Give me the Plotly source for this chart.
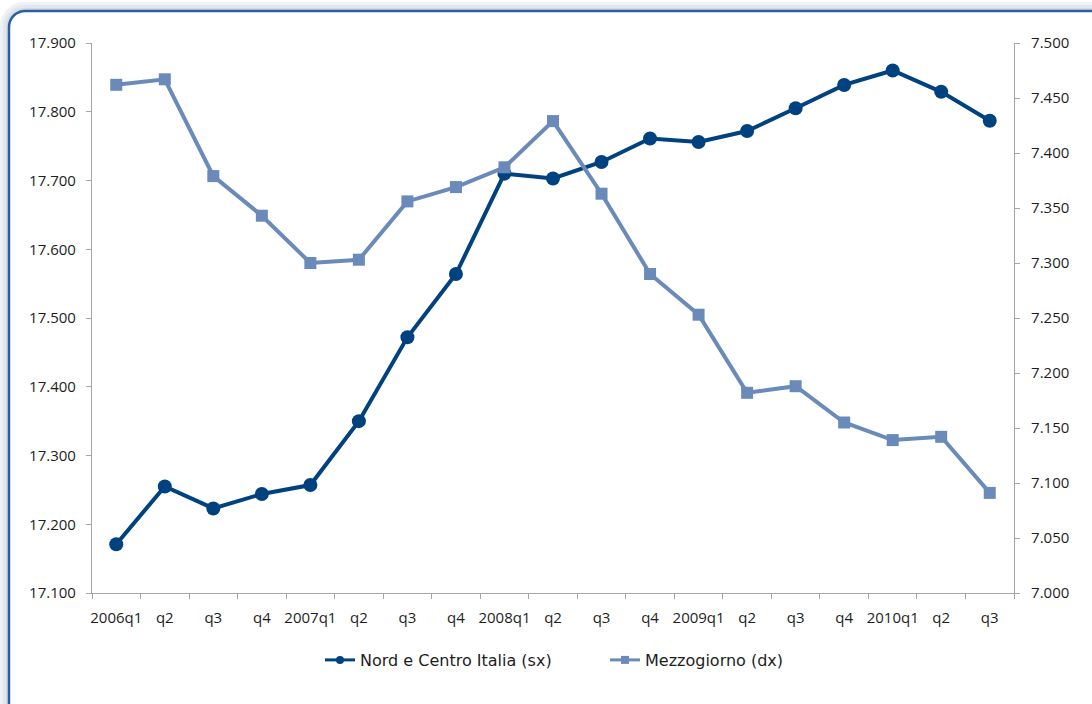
import math
import plotly.graph_objects as go

# Quarterly series, 2006q1 - 2010q3 (thousands)
quarters = [
    "2006q1", "2006q2", "2006q3", "2006q4",
    "2007q1", "2007q2", "2007q3", "2007q4",
    "2008q1", "2008q2", "2008q3", "2008q4",
    "2009q1", "2009q2", "2009q3", "2009q4",
    "2010q1", "2010q2", "2010q3",
]
tick_labels = [
    "2006q1", "q2", "q3", "q4",
    "2007q1", "q2", "q3", "q4",
    "2008q1", "q2", "q3", "q4",
    "2009q1", "q2", "q3", "q4",
    "2010q1", "q2", "q3",
]
nord_centro = [
    17171, 17255, 17223, 17244, 17257, 17350, 17472, 17564, 17710, 17703,
    17727, 17761, 17756, 17772, 17805, 17839, 17860, 17829, 17787,
]
mezzogiorno = [
    7462, 7467, 7379, 7343, 7300, 7303, 7356, 7369, 7387, 7429,
    7363, 7290, 7253, 7182, 7188, 7155, 7139, 7142, 7091,
]
series_names = ["Nord e Centro Italia (sx)", "Mezzogiorno (dx)"]

NAVY = "#00427f"
STEEL = "#6a8aba"
AXIS = "#a6a6a6"
TEXT = "#1e1e1e"

W, H = 1092, 704
ML, MR, MT, MB = 92, 78, 43, 111
PW, PH = W - ML - MR, H - MT - MB


def px(x, y):
    """Pixel position -> paper coordinates."""
    return (x - ML) / PW, (H - MB - y) / PH


def path(points, close=False):
    parts = []
    for i, (x, y) in enumerate(points):
        u, v = px(x, y)
        parts.append(("M" if i == 0 else "L") + f"{u:.5f},{v:.5f}")
    return " ".join(parts) + (" Z" if close else "")


def corner_arc(cx, cy, r, steps=10, start=180, end=270):
    pts = []
    for k in range(steps + 1):
        a = math.radians(start + (end - start) * k / steps)
        pts.append((cx + r * math.cos(a), cy + r * math.sin(a)))
    return pts


fig = go.Figure()

styles = [
    dict(values=nord_centro, axis="y", color=NAVY, symbol="circle", size=14),
    dict(values=mezzogiorno, axis="y2", color=STEEL, symbol="square", size=12),
]
for name, st in zip(series_names, styles):
    fig.add_trace(go.Scatter(
        x=quarters, y=st["values"], name=name, showlegend=False,
        mode="lines+markers", yaxis=st["axis"],
        line=dict(color=st["color"], width=4),
        marker=dict(symbol=st["symbol"], size=st["size"], color=st["color"]),
    ))
# Legend entries with the smaller key symbols
for name, st in zip(series_names, styles):
    fig.add_trace(go.Scatter(
        x=[None], y=[None], name=name, mode="lines+markers", yaxis=st["axis"],
        line=dict(color=st["color"], width=3),
        marker=dict(symbol=st["symbol"], size=8, color=st["color"]),
    ))

# Rounded frame with soft shadow along the top and left edges
shapes = []
R = 16
bx, by = 9, 11
for off, col in [(9, "#eef1f5"), (6, "#e2e7ee"), (3, "#d3dae4"), (1, "#c2ccd9")]:
    outer = [(bx - off, H + 5)] + corner_arc(bx + R, by + R, R + off) + [(W + 5, by - off)]
    inner = [(W + 5, by)] + corner_arc(bx + R, by + R, R)[::-1] + [(bx, H + 5)]
    shapes.append(dict(
        type="path", xref="paper", yref="paper", layer="below",
        path=path(outer + inner, close=True),
        fillcolor=col, line=dict(width=0),
    ))
frame = [(bx, H + 5)] + corner_arc(bx + R, by + R, R) + [(W + 5, by)]
shapes.append(dict(
    type="path", xref="paper", yref="paper", layer="above",
    path=path(frame), line=dict(color="#2c5f9e", width=2.5),
))

tick_font = dict(family="Open Sans, Liberation Sans, sans-serif", size=15, color=TEXT)

fig.update_layout(
    width=W, height=H,
    margin=dict(l=ML, r=MR, t=MT, b=MB),
    paper_bgcolor="white", plot_bgcolor="white",
    separators=",.",
    showlegend=True,
    legend=dict(
        orientation="h", x=0.5564, xanchor="center", y=px(0, 660)[1], yanchor="middle",
        font=dict(family="DejaVu Sans, sans-serif", size=16, color=TEXT),
        itemwidth=30, entrywidth=240,
        bgcolor="rgba(0,0,0,0)", tracegroupgap=0,
    ),
    xaxis=dict(
        type="category", tickmode="array", tickvals=quarters, ticktext=tick_labels,
        tickson="boundaries", ticks="outside", ticklen=5, tickcolor=AXIS,
        tickangle=0, ticklabelstandoff=11,
        showline=True, linecolor=AXIS, linewidth=1.2, showgrid=False,
        tickfont=tick_font, range=[-0.5, len(quarters) - 0.5],
        zeroline=False,
    ),
    yaxis=dict(
        range=[17100, 17900], dtick=100, tickformat=",d",
        ticks="outside", ticklen=5, tickcolor=AXIS, ticklabelstandoff=7,
        showline=True, linecolor=AXIS, linewidth=1.2, showgrid=False,
        zeroline=False, tickfont=tick_font,
    ),
    yaxis2=dict(
        range=[7000, 7500], dtick=50, tickformat=",d",
        overlaying="y", side="right",
        ticks="outside", ticklen=5, tickcolor=AXIS, ticklabelstandoff=8,
        showline=True, linecolor=AXIS, linewidth=1.2, showgrid=False,
        zeroline=False, tickfont=tick_font,
    ),
    shapes=shapes,
)

fig.write_html("out.html")
